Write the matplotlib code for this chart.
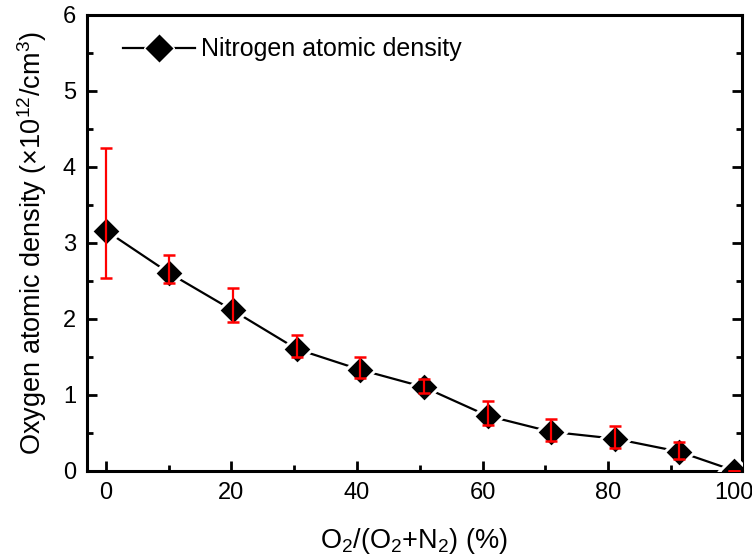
import matplotlib
matplotlib.use('Agg')
import matplotlib.pyplot as plt
from matplotlib.lines import Line2D
from matplotlib.ticker import MultipleLocator

plt.rcParams['font.family'] = ['Liberation Sans', 'DejaVu Sans']
plt.rcParams['mathtext.fontset'] = 'custom'
plt.rcParams['mathtext.rm'] = 'Liberation Sans'
plt.rcParams['mathtext.it'] = 'Liberation Sans:italic'

# O2 fraction (%) and atomic density (x10^12 /cm^3)
o2_frac = [0, 10.1, 20.2, 30.4, 40.4, 50.6, 60.8, 70.9, 81.0, 91.2, 100]
density = [3.16, 2.60, 2.11, 1.60, 1.33, 1.10, 0.72, 0.51, 0.42, 0.25, 0.0]
err_upper = [4.25, 2.84, 2.40, 1.78, 1.49, 1.20, 0.91, 0.68, 0.58, 0.37, 0.0]
err_lower = [2.54, 2.47, 1.95, 1.49, 1.22, 1.02, 0.60, 0.39, 0.30, 0.15, 0.0]

yerr = [[d - lo for d, lo in zip(density, err_lower)],
        [hi - d for d, hi in zip(density, err_upper)]]

fig = plt.figure(figsize=(7.52, 5.59), dpi=100)
ax = fig.add_axes([0.1157, 0.1583, 0.871, 0.8149])

ax.plot(o2_frac, density, color='black', lw=1.6, zorder=2)
ax.plot(o2_frac, density, ls='none', marker='D', ms=15.5, color='black',
        mec='white', mew=2.2, zorder=3)
ax.errorbar(o2_frac, density, yerr=yerr, fmt='none', ecolor='red',
            elinewidth=1.6, capsize=4.5, capthick=1.8, zorder=4)

ax.set_xlim(-3, 101.3)
ax.set_ylim(0, 6)
ax.xaxis.set_major_locator(MultipleLocator(20))
ax.xaxis.set_minor_locator(MultipleLocator(10))
ax.yaxis.set_major_locator(MultipleLocator(1))
ax.yaxis.set_minor_locator(MultipleLocator(0.5))

for s in ax.spines.values():
    s.set_linewidth(2.2)
ax.tick_params(which='both', direction='in', width=2, left=True, right=True,
               bottom=True, top=False, labelsize=17, pad=8)
ax.tick_params(which='major', length=7)
ax.tick_params(which='minor', length=4)

ax.set_xlabel(r'O$_2$/(O$_2$+N$_2$) (%)', fontsize=19.5, labelpad=16)
ax.set_ylabel(r'Oxygen atomic density ($\times$10$^{12}$/cm$^3$)', fontsize=19.5, labelpad=10)

handle = Line2D([], [], color='black', lw=1.6, marker='D', ms=15.5, mec='white', mew=1.0)
ax.legend([handle], ['Nitrogen atomic density'], loc='upper left', frameon=False,
          fontsize=18, handlelength=2.9, handletextpad=0.25,
          bbox_to_anchor=(0.02, 1.0))

fig.savefig('out.png', dpi=100)
